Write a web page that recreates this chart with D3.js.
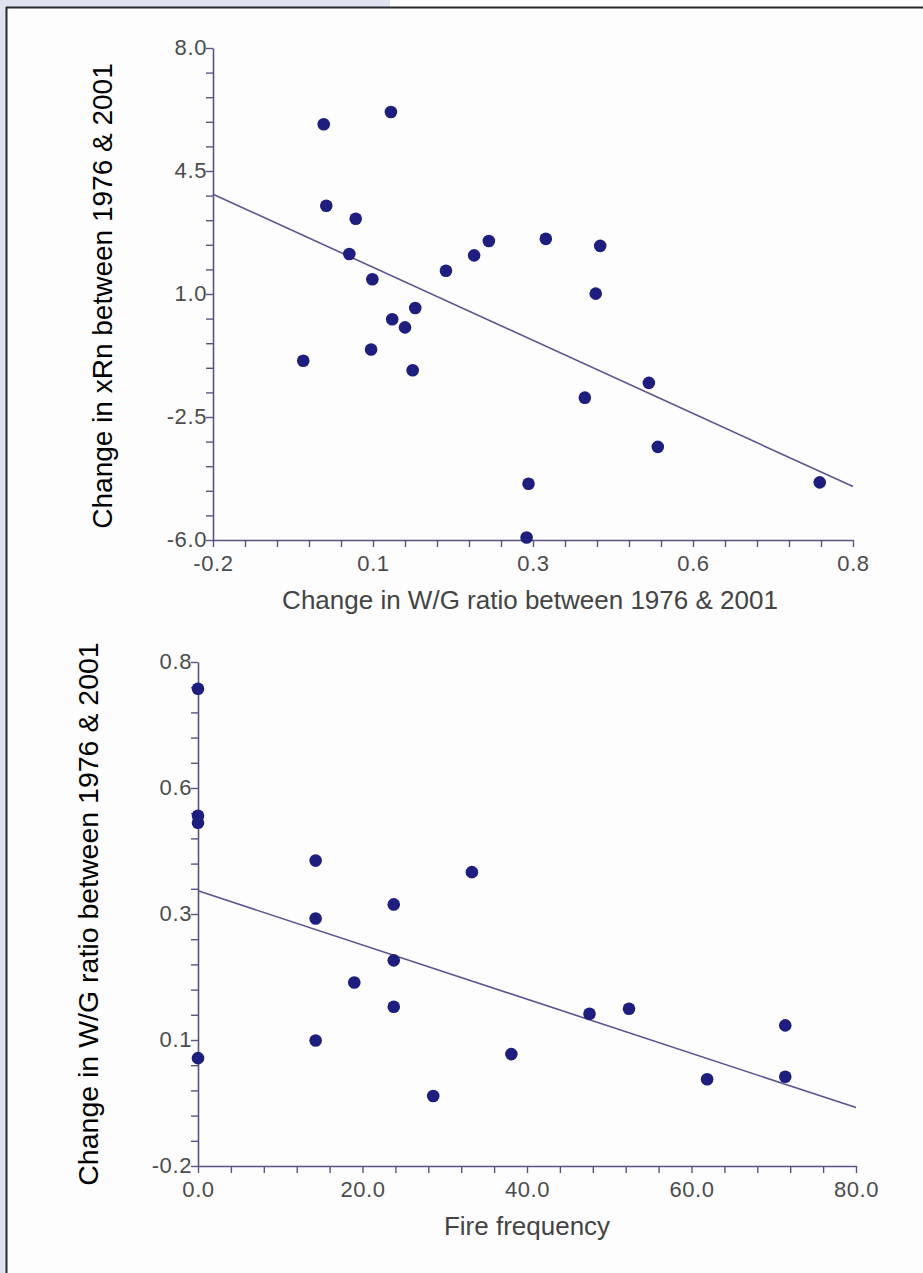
<!DOCTYPE html>
<html>
<head>
<meta charset="utf-8">
<script src="https://cdn.jsdelivr.net/npm/d3@7"></script>
<style>
  body { margin: 0; background: #fdfdfd; }
  svg { display: block; }
</style>
</head>
<body>
<div id="chart"></div>
<script>
// data
// top panel: change in W/G ratio (x) vs change in xRn (y)
var wgChange  = [-0.027, 0.078, -0.023, 0.023, 0.013, 0.049, 0.164, 0.208, 0.231, 0.320, 0.405, 0.398,
                 0.116, 0.080, 0.100, 0.047, -0.059, 0.112, 0.481, 0.381, 0.495, 0.293, 0.748, 0.290];
var xrnChange = [5.83, 6.18, 3.51, 3.14, 2.14, 1.42, 1.66, 2.10, 2.51, 2.57, 2.37, 1.01,
                 0.60, 0.28, 0.05, -0.58, -0.90, -1.17, -1.53, -1.95, -3.35, -4.40, -4.36, -5.93];
var topFitX = [-0.2, 0.8];
var topFitY = [3.84, -4.48];
var topXTicks = [-0.2, 0.05, 0.3, 0.55, 0.8];
var topXLabels = ["-0.2", "0.1", "0.3", "0.6", "0.8"];
var topYTicks = [-6.0, -2.5, 1.0, 4.5, 8.0];
var topYLabels = ["-6.0", "-2.5", "1.0", "4.5", "8.0"];

// bottom panel: fire frequency (x) vs change in W/G ratio (y)
var fireFreq = [0, 0, 0, 14.3, 33.3, 23.8, 14.3, 23.8, 19.0, 23.8, 14.3, 0, 38.1, 28.6, 47.6, 52.4, 71.4, 71.4, 61.9];
var wgByFire = [0.747, 0.495, 0.481, 0.406, 0.383, 0.319, 0.291, 0.208, 0.164, 0.116, 0.049, 0.014, 0.022, -0.061,
                0.102, 0.112, 0.079, -0.023, -0.028];
var botFitX = [0, 80];
var botFitY = [0.346, -0.084];
var botXTicks = [0, 20, 40, 60, 80];
var botXLabels = ["0.0", "20.0", "40.0", "60.0", "80.0"];
var botYTicks = [-0.2, 0.05, 0.3, 0.55, 0.8];
var botYLabels = ["-0.2", "0.1", "0.3", "0.6", "0.8"];

var W = 923, H = 1273;
var axisCol = "#5e5285";
var lineCol = "#5d5493";
var dotCol = "#1e1e7e";
var font = "Liberation Sans, Arial, sans-serif";

var svg = d3.select("#chart").append("svg")
  .attr("width", W)
  .attr("height", H);

// frame like the scanned page
svg.append("rect").attr("x", 0).attr("y", 0).attr("width", W).attr("height", H).attr("fill", "#fdfdfd");
svg.append("rect").attr("x", 0).attr("y", 0).attr("width", 390).attr("height", 7).attr("fill", "#dfe3f0");
svg.append("rect").attr("x", 0).attr("y", 0).attr("width", 6).attr("height", H).attr("fill", "#dfe3f0");
svg.append("line").attr("x1", 6).attr("y1", 7.5).attr("x2", W).attr("y2", 7.5)
  .attr("stroke", "#2a2a2a").attr("stroke-width", 2);
svg.append("line").attr("x1", 6.5).attr("y1", 7).attr("x2", 6.5).attr("y2", H)
  .attr("stroke", "#2a2a2a").attr("stroke-width", 2);

// 5 minor steps between labelled ticks
function minorTicks(major) {
  var out = [];
  for (var i = 0; i < major.length - 1; i++) {
    var step = (major[i + 1] - major[i]) / 5;
    for (var k = 0; k < 5; k++) out.push(major[i] + k * step);
  }
  out.push(major[major.length - 1]);
  return out;
}

function panel(cfg) {
  var x = d3.scaleLinear().domain([cfg.xTicks[0], cfg.xTicks[4]]).range([cfg.left, cfg.right]);
  var y = d3.scaleLinear().domain([cfg.yTicks[0], cfg.yTicks[4]]).range([cfg.bottom, cfg.top]);
  var g = svg.append("g");

  function labelOf(ticks, labels) {
    return function(v) {
      for (var i = 0; i < ticks.length; i++) {
        if (Math.abs(v - ticks[i]) < 1e-6) return labels[i];
      }
      return "";
    };
  }

  var xa = g.append("g")
    .attr("transform", "translate(0," + cfg.bottom + ")")
    .call(d3.axisBottom(x).tickValues(minorTicks(cfg.xTicks)).tickSize(7).tickSizeOuter(0)
      .tickFormat(labelOf(cfg.xTicks, cfg.xLabels)));
  var ya = g.append("g")
    .attr("transform", "translate(" + cfg.left + ",0)")
    .call(d3.axisLeft(y).tickValues(minorTicks(cfg.yTicks)).tickSize(7).tickSizeOuter(0)
      .tickFormat(labelOf(cfg.yTicks, cfg.yLabels)));

  [xa, ya].forEach(function(a) {
    a.attr("font-size", 22).attr("font-family", font);
    a.select(".domain").attr("stroke", axisCol).attr("stroke-width", 1.6);
    a.selectAll(".tick line").attr("stroke", axisCol).attr("stroke-width", 1.4);
    a.selectAll(".tick text").attr("fill", "#4c4c4c").attr("letter-spacing", 0.6);
  });
  xa.selectAll(".tick text").attr("y", 14).attr("dy", "0.75em");
  ya.selectAll(".tick text").attr("x", -6).attr("dy", "0.3em");

  // fitted line
  g.append("line")
    .attr("x1", x(cfg.fitX[0])).attr("y1", y(cfg.fitY[0]))
    .attr("x2", x(cfg.fitX[1])).attr("y2", y(cfg.fitY[1]))
    .attr("stroke", lineCol).attr("stroke-width", 1.6);

  g.selectAll("circle.pt")
    .data(d3.range(cfg.xs.length))
    .enter().append("circle")
    .attr("class", "pt")
    .attr("cx", function(i) { return x(cfg.xs[i]); })
    .attr("cy", function(i) { return y(cfg.ys[i]); })
    .attr("r", 6.3)
    .attr("fill", dotCol);

  g.append("text")
    .attr("x", cfg.xTitleX)
    .attr("y", cfg.bottom + 69)
    .attr("text-anchor", "middle")
    .attr("font-family", font)
    .attr("font-size", 26)
    .attr("fill", "#444")
    .text(cfg.xTitle);

  g.append("text")
    .attr("transform", "translate(" + cfg.yTitleX + "," + cfg.yTitleY + ") rotate(-90)")
    .attr("text-anchor", "middle")
    .attr("font-family", font)
    .attr("font-size", cfg.yTitleSize)
    .attr("fill", "#000")
    .text(cfg.yTitle);
}

panel({
  left: 213, right: 853, top: 48, bottom: 540,
  xTicks: topXTicks, xLabels: topXLabels, yTicks: topYTicks, yLabels: topYLabels,
  xs: wgChange, ys: xrnChange, fitX: topFitX, fitY: topFitY,
  xTitle: "Change in W/G ratio between 1976 & 2001", xTitleX: 530,
  yTitle: "Change in xRn between 1976 & 2001",
  yTitleX: 112, yTitleY: 296, yTitleSize: 28
});

panel({
  left: 198, right: 856, top: 662, bottom: 1166,
  xTicks: botXTicks, xLabels: botXLabels, yTicks: botYTicks, yLabels: botYLabels,
  xs: fireFreq, ys: wgByFire, fitX: botFitX, fitY: botFitY,
  xTitle: "Fire frequency", xTitleX: 527,
  yTitle: "Change in W/G ratio between 1976 & 2001",
  yTitleX: 98, yTitleY: 914, yTitleSize: 28.5
});
</script>
</body>
</html>
